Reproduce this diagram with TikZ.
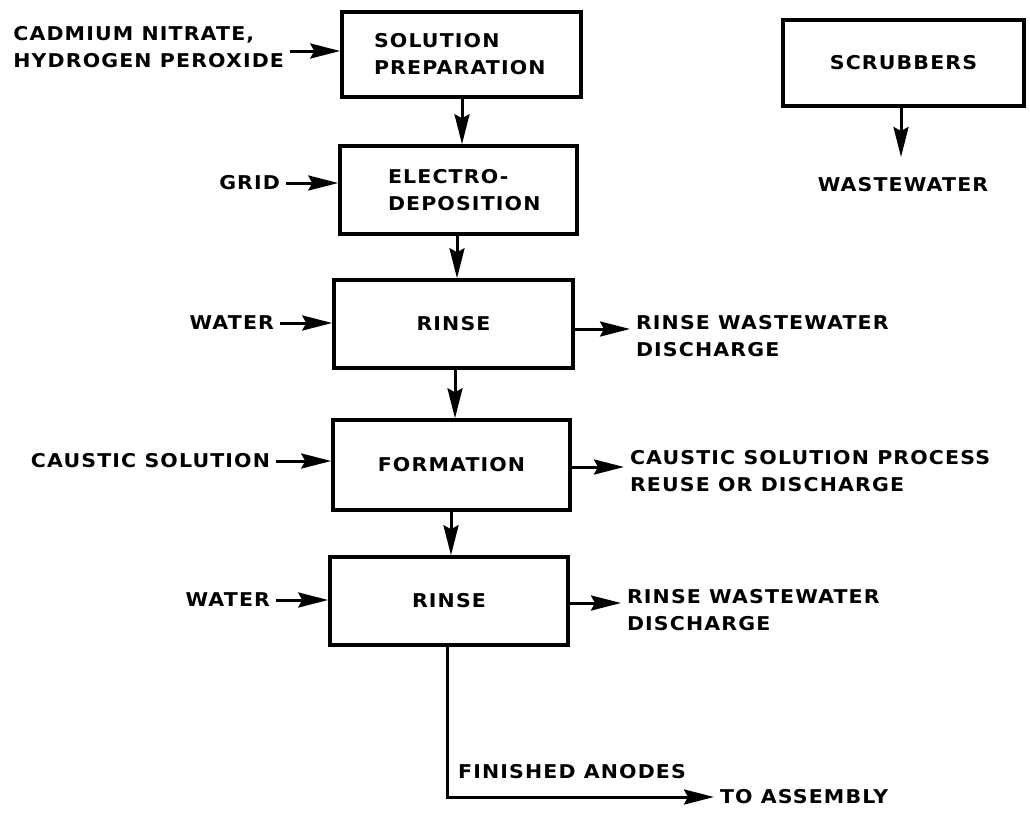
\documentclass[tikz,border=0pt]{standalone}
\usepackage{fontspec}
\usetikzlibrary{arrows.meta}
% wide, heavy capitals for all labels
\newfontfamily\labfont{DejaVu Sans}[FakeStretch=1.08, LetterSpace=6]
\begin{document}
\begin{tikzpicture}[x=1pt, y=-1pt,
  every node/.style={font=\labfont\bfseries\fontsize{19}{27}\selectfont, inner sep=0pt},
  box/.style={draw, line width=3.5pt, align=center},
  boxl/.style={box, align=left},
  lbl/.style={align=left, outer sep=6pt},
  arr/.style={line width=3pt, -{Stealth[length=30pt, width=15pt, inset=4pt]}},
]
\useasboundingbox (0,0) rectangle (1030,819);

% process boxes
\node[boxl, minimum width=239, minimum height=85, text width=175] (sol)  at (461.5,54.5) {SOLUTION\\PREPARATION};
\node[boxl, minimum width=237, minimum height=88, text width=141] (elec) at (458.5,190)  {ELECTRO-\\DEPOSITION};
\node[box,  minimum width=239, minimum height=88] (rin1) at (453.5,324) {RINSE};
\node[box,  minimum width=237, minimum height=90] (form) at (451.5,465) {FORMATION};
\node[box,  minimum width=238, minimum height=88] (rin2) at (449,601)   {RINSE};
\node[box,  minimum width=241, minimum height=86] (scr)  at (903.5,63)  {SCRUBBERS};

% feed streams
\node[lbl, anchor=east] (cad)   at (290,47)  {CADMIUM NITRATE,\\HYDROGEN PEROXIDE};
\node[lbl, anchor=east] (grid)  at (286,183) {GRID};
\node[lbl, anchor=east] (wat1)  at (280,323) {WATER};
\node[lbl, anchor=east] (caus)  at (276,461) {CAUSTIC SOLUTION};
\node[lbl, anchor=east] (wat2)  at (276,600) {WATER};

% discharge streams
\node[lbl, anchor=west] (out1) at (630,336) {RINSE WASTEWATER\\DISCHARGE};
\node[lbl, anchor=west] (out2) at (624,471) {CAUSTIC SOLUTION PROCESS\\REUSE OR DISCHARGE};
\node[lbl, anchor=west] (out3) at (621,610) {RINSE WASTEWATER\\DISCHARGE};
\node (ww)   at (903,185) {WASTEWATER};
\coordinate (wwtip) at (901,157);

% product
\node[anchor=west] (fin) at (458,772) {FINISHED ANODES};
\node[lbl, anchor=west] (asm) at (714,797) {TO ASSEMBLY};

% main line
\draw[arr] (sol.south -| 462,0) -- (elec.north -| 462,0);
\draw[arr] (elec.south -| 457,0) -- (rin1.north -| 457,0);
\draw[arr] (rin1.south -| 455,0) -- (form.north -| 455,0);
\draw[arr] (form.south -| 451,0) -- (rin2.north -| 451,0);
\draw[arr] (rin2.south -| 447,0) |- (asm.west);

% inputs
\draw[arr] (cad.east |- 0,51) -- (sol.west |- 0,51);
\draw[arr] (grid.east) -- (grid.east -| elec.west);
\draw[arr] (wat1.east) -- (wat1.east -| rin1.west);
\draw[arr] (caus.east) -- (caus.east -| form.west);
\draw[arr] (wat2.east) -- (wat2.east -| rin2.west);

% outputs
\draw[arr] (rin1.east |- 0,329) -- (out1.west |- 0,329);
\draw[arr] (form.east |- 0,467) -- (out2.west |- 0,467);
\draw[arr] (rin2.east |- 0,603) -- (out3.west |- 0,603);
\draw[arr] (scr.south -| wwtip) -- (wwtip);
\end{tikzpicture}
\end{document}
